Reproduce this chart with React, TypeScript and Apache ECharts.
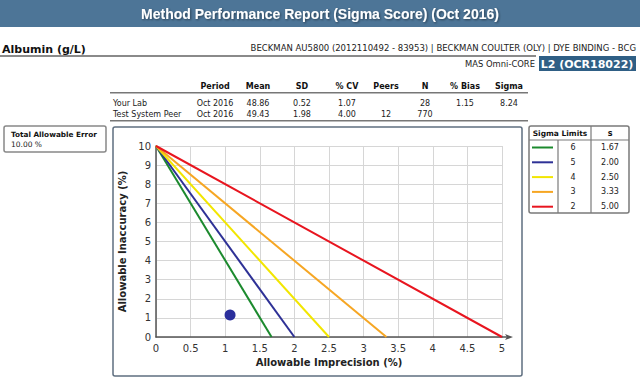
import React, { useEffect, useRef } from "react";
import * as echarts from "echarts";

const title = "Method Performance Report (Sigma Score) (Oct 2016)";
const analyte = "Albumin (g/L)";
const instrument = "BECKMAN AU5800 (2012110492 - 83953) | BECKMAN COULTER (OLY) | DYE BINDING - BCG";
const product = "MAS Omni-CORE";
const lotLabel = "L2 (OCR18022)";
const teaLabel = "Total Allowable Error";
const teaValue = 10; // %
const tableHeaders = ["Period", "Mean", "SD", "% CV", "Peers", "N", "% Bias", "Sigma"];
const rowLabels = ["Your Lab", "Test System Peer"];
const yourLabRow = ["Oct 2016", "48.86", "0.52", "1.07", "", "28", "1.15", "8.24"];
const peerRow = ["Oct 2016", "49.43", "1.98", "4.00", "12", "770", "", ""];
const sigmaLevels = [6, 5, 4, 3, 2];
const sigmaS = [1.67, 2.0, 2.5, 3.33, 5.0];
const labCV = 1.07;
const labBias = 1.15;

const sigmaColors = ["#1c8a2e", "#2e3196", "#f2e600", "#f6a623", "#e8151f"];
const FONT = "DejaVu Sans";

export default function App() {
  const ref = useRef<HTMLDivElement>(null);
  useEffect(() => {
    if (!ref.current) return;
    const chart = echarts.init(ref.current, null, { renderer: "svg" });

    const colX = [215, 258, 302, 347, 386, 425, 465, 509];
    const g: any[] = [];
    // header bar
    g.push({ type: "rect", shape: { x: 0, y: 0, width: 640, height: 27 }, style: { fill: "#4d7597" } });
    g.push({
      type: "text", x: 320, y: 14,
      style: { text: title, fill: "#fff", font: "bold 14px 'Liberation Sans'", align: "center", verticalAlign: "middle",
        textShadowColor: "rgba(0,0,0,0.45)", textShadowBlur: 2, textShadowOffsetX: 1, textShadowOffsetY: 1 },
    });
    g.push({ type: "text", x: 2, y: 49, style: { text: analyte, fill: "#111", font: `bold 11px '${FONT}'`, verticalAlign: "middle" } });
    g.push({ type: "rect", shape: { x: 0, y: 55, width: 536, height: 2 }, style: { fill: "#8a8a8a" } });
    g.push({ type: "text", x: 636, y: 48, style: { text: instrument, fill: "#222", font: `8.5px '${FONT}'`, align: "right", verticalAlign: "middle" } });
    g.push({ type: "text", x: 535, y: 64, style: { text: product, fill: "#222", font: `8.4px '${FONT}'`, align: "right", verticalAlign: "middle" } });
    g.push({ type: "rect", shape: { x: 539, y: 56, width: 97, height: 15 }, style: { fill: "#2f5f85" } });
    g.push({ type: "text", x: 587, y: 64, style: { text: lotLabel, fill: "#fff", font: `bold 11px '${FONT}'`, align: "center", verticalAlign: "middle" } });

    // stats table
    tableHeaders.forEach((h, i) => {
      g.push({ type: "text", x: colX[i], y: 86, style: { text: h, fill: "#111", font: `bold 8px '${FONT}'`, align: "center", verticalAlign: "middle" } });
    });
    g.push({ type: "rect", shape: { x: 110, y: 92, width: 418, height: 1.5 }, style: { fill: "#777" } });
    [yourLabRow, peerRow].forEach((row, r) => {
      const y = 103 + r * 11.5;
      g.push({ type: "text", x: 113, y, style: { text: rowLabels[r], fill: "#222", font: `8px '${FONT}'`, verticalAlign: "middle" } });
      row.forEach((v, i) => {
        if (!v) return;
        g.push({ type: "text", x: colX[i], y, style: { text: v, fill: "#222", font: `8px '${FONT}'`, align: "center", verticalAlign: "middle" } });
      });
    });
    g.push({ type: "rect", shape: { x: 110, y: 120, width: 418, height: 1.5 }, style: { fill: "#777" } });

    // TAE box
    g.push({ type: "rect", shape: { x: 4, y: 126, width: 102, height: 26, r: 2 }, style: { fill: "#fff", stroke: "#888", lineWidth: 1.5 } });
    g.push({ type: "text", x: 11, y: 134, style: { text: teaLabel, fill: "#111", font: `bold 7.3px '${FONT}'`, verticalAlign: "middle" } });
    g.push({ type: "text", x: 11, y: 144, style: { text: teaValue.toFixed(2) + " %", fill: "#222", font: `7.5px '${FONT}'`, verticalAlign: "middle" } });

    // chart box
    g.push({ type: "rect", z: -10, shape: { x: 113, y: 127, width: 409, height: 249, r: 2 }, style: { fill: "#fff", stroke: "#5f6f80", lineWidth: 1.5 } });

    // sigma legend table
    const lx = 529, ly = 126, lw = 100, lh = 87;
    g.push({ type: "rect", shape: { x: lx, y: ly, width: lw, height: lh, r: 2 }, style: { fill: "#fff", stroke: "#7a7a7a", lineWidth: 1.5 } });
    g.push({ type: "line", shape: { x1: lx, y1: 140, x2: lx + lw, y2: 140 }, style: { stroke: "#7a7a7a", lineWidth: 1.2 } });
    g.push({ type: "line", shape: { x1: 591, y1: ly, x2: 591, y2: ly + lh }, style: { stroke: "#7a7a7a", lineWidth: 1.2 } });
    g.push({ type: "line", shape: { x1: 558, y1: 140, x2: 558, y2: ly + lh }, style: { stroke: "#7a7a7a", lineWidth: 1.2 } });
    g.push({ type: "text", x: 560, y: 133, style: { text: "Sigma Limits", fill: "#111", font: `bold 7.5px '${FONT}'`, align: "center", verticalAlign: "middle" } });
    g.push({ type: "text", x: 610, y: 133, style: { text: "s", fill: "#111", font: `bold 8px '${FONT}'`, align: "center", verticalAlign: "middle" } });
    sigmaLevels.forEach((lvl, i) => {
      const y = 147.5 + i * 14.8;
      g.push({ type: "line", shape: { x1: 532, y1: y, x2: 553, y2: y }, style: { stroke: sigmaColors[i], lineWidth: 2 } });
      g.push({ type: "text", x: 573, y, style: { text: String(lvl), fill: "#222", font: `8px '${FONT}'`, align: "center", verticalAlign: "middle" } });
      g.push({ type: "text", x: 610, y, style: { text: sigmaS[i].toFixed(2), fill: "#222", font: `8px '${FONT}'`, align: "center", verticalAlign: "middle" } });
    });
    // axis arrow extension
    g.push({ type: "line", z: 10, shape: { x1: 502, y1: 337, x2: 509, y2: 337 }, style: { stroke: "#555", lineWidth: 1.5 } });
    g.push({ type: "polygon", z: 10, shape: { points: [[513, 337], [505, 334], [507, 337], [505, 340]] }, style: { fill: "#555" } });

    const lineSeries = sigmaS.map((s, i) => ({
      type: "line",
      name: "Sigma " + sigmaLevels[i],
      data: [[0, teaValue], [s, 0]],
      showSymbol: false,
      symbol: "none",
      lineStyle: { color: sigmaColors[i], width: 2 },
      z: 3,
    }));

    chart.setOption({
      animation: false,
      textStyle: { fontFamily: FONT },
      graphic: g,
      grid: { left: 156, top: 146, width: 346, height: 191, containLabel: false },
      xAxis: {
        type: "value", min: 0, max: 5, interval: 0.5,
        name: "Allowable Imprecision (%)", nameLocation: "middle", nameGap: 20,
        nameTextStyle: { fontWeight: "bold", fontSize: 10, color: "#222", fontFamily: FONT },
        axisLine: { lineStyle: { color: "#555", width: 1.5 } },
        axisTick: { show: false },
        axisLabel: { color: "#333", fontSize: 10, margin: 6, fontFamily: FONT },
        splitLine: { lineStyle: { color: "#d6d6d6", width: 1 } },
      },
      yAxis: {
        type: "value", min: 0, max: 10, interval: 1,
        name: "Allowable Inaccuracy (%)", nameLocation: "middle", nameGap: 20,
        nameTextStyle: { fontWeight: "bold", fontSize: 10, color: "#222", fontFamily: FONT },
        axisLine: { show: true, lineStyle: { color: "#555", width: 1.5 } },
        axisTick: { show: false },
        axisLabel: { color: "#333", fontSize: 10, margin: 5, fontFamily: FONT },
        splitLine: { lineStyle: { color: "#d6d6d6", width: 1 } },
      },
      series: [
        ...lineSeries,
        {
          type: "scatter",
          name: "Your Lab",
          data: [[labCV, labBias]],
          symbolSize: 11,
          itemStyle: { color: "#2b2f9c", opacity: 1 },
          z: 5,
        },
      ],
    });
    return () => chart.dispose();
  }, []);
  return <div ref={ref} style={{ position: "fixed", left: 0, top: 0, width: 640, height: 384, background: "#fff" }} />;
}
